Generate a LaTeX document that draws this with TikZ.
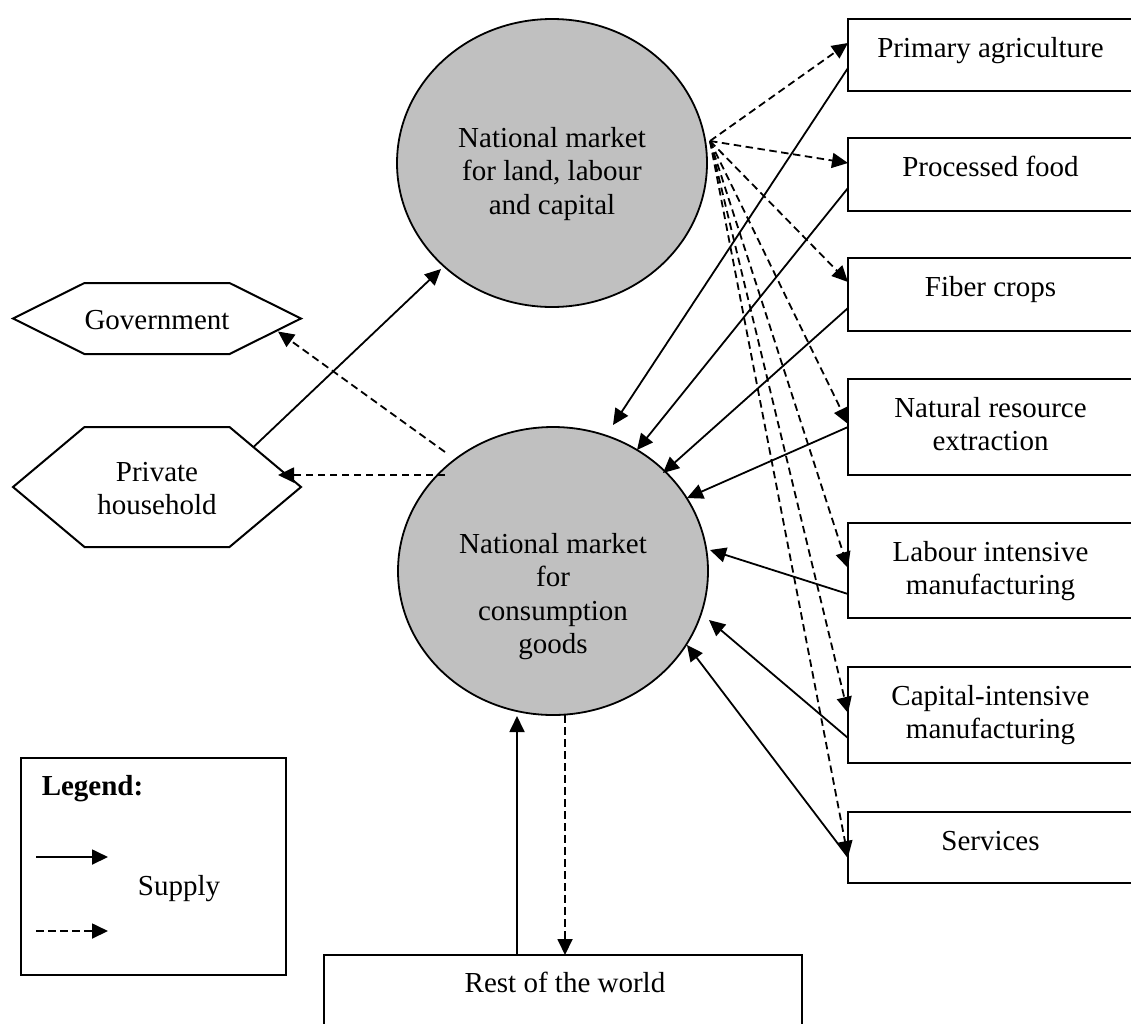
\documentclass[tikz,border=0pt]{standalone}
\usepackage{fontspec}
\setmainfont{Liberation Serif}
\usetikzlibrary{arrows.meta,calc,shapes.geometric}
\definecolor{marketgray}{RGB}{192,192,192}
\begin{document}
\begin{tikzpicture}[x=1pt,y=-1pt,
  every node/.style={inner sep=0pt,outer sep=0pt},
  % text block: placed by the baseline of its first line
  txt/.style={font=\fontsize{29}{33.5}\selectfont,align=center,anchor=north,yshift=23.45pt},
  sector/.style={draw,line width=2.4pt,minimum width=285pt},
  market/.style={ellipse,draw,line width=1.8pt,fill=marketgray,minimum width=310pt,minimum height=288pt},
  agent/.style={minimum width=288pt},
  hexline/.style={line width=2pt,line join=miter},
  supply/.style={draw,line width=1.8pt,-{Triangle[length=16pt,width=15pt]}},
  demand/.style={supply,dash pattern=on 7.5pt off 4.5pt}]

\useasboundingbox (0,0) rectangle (1131,1023);
\fill[white] (0,0) rectangle (1131,1023);
\clip (0,0) rectangle (1131,1023);

% markets
\node[market] (lm) at (552,163) {};
\node[txt] (lmt) at (552,147) {\strut National market\\for land, labour\\and capital};
\node[market] (cg) at (553,571) {};
\node[txt] (cgt) at (553,553) {\strut National market\\for\\consumption\\goods};

% sectors
\node[sector,minimum height=72pt] (pa) at (990.5,55) {};
\node[txt] (pat) at ($(pa.north)+(0,38)$) {\strut Primary agriculture};
\node[sector,minimum height=73pt] (pf) at (990.5,174.5) {};
\node[txt] (pft) at ($(pf.north)+(0,38)$) {\strut Processed food};
\node[sector,minimum height=73pt] (fc) at (990.5,294.5) {};
\node[txt] (fct) at ($(fc.north)+(0,38)$) {\strut Fiber crops};
\node[sector,minimum height=96pt] (nr) at (990.5,427) {};
\node[txt] (nrt) at ($(nr.north)+(0,38)$) {\strut Natural resource\\extraction};
\node[sector,minimum height=95pt] (li) at (990.5,570.5) {};
\node[txt] (lit) at ($(li.north)+(0,38)$) {\strut Labour intensive\\manufacturing};
\node[sector,minimum height=96pt] (ci) at (990.5,715) {};
\node[txt] (cit) at ($(ci.north)+(0,38)$) {\strut Capital-intensive\\manufacturing};
\node[sector,minimum height=71pt] (sv) at (990.5,847.5) {};
\node[txt] (svt) at ($(sv.north)+(0,38)$) {\strut Services};

% rest of the world
\node[sector,minimum width=478pt,minimum height=72pt] (rw) at (563,991) {};
\node[txt] (rwt) at (565,992) {\strut Rest of the world};

% government and households
\node[agent,minimum height=71pt] (gov) at (157,318.5) {};
\draw[hexline] (gov.west) -- ($(gov.north west)+(71.5,0)$) -- ($(gov.north east)+(-71.5,0)$)
  -- (gov.east) -- ($(gov.south east)+(-71.5,0)$) -- ($(gov.south west)+(71.5,0)$) -- cycle;
\node[txt] (govt) at (157,329) {\strut Government};
\node[agent,minimum height=120pt] (hh) at (157,487) {};
\draw[hexline] (hh.west) -- ($(hh.north west)+(71.5,0)$) -- ($(hh.north east)+(-71.5,0)$)
  -- (hh.east) -- ($(hh.south east)+(-71.5,0)$) -- ($(hh.south west)+(71.5,0)$) -- cycle;
\node[txt] (hht) at (157,481) {\strut Private\\household};

% demand for factors
\coordinate (lmo) at ($(lm.center)+(158,-22)$);
\draw[demand] (lmo) -- ($(pa.west)+(0,-12)$);
\draw[demand] (lmo) -- ($(pf.west)+(0,-11.5)$);
\draw[demand] (lmo) -- ($(fc.west)+(0,-12.5)$);
\draw[demand] (lmo) -- ($(nr.west)+(0,-3)$);
\draw[demand] (lmo) -- ($(li.west)+(0,-2.5)$);
\draw[demand] (lmo) -- ($(ci.west)+(0,-2)$);
\draw[demand] (lmo) -- ($(sv.west)+(0,9.5)$);

% supply of goods
\draw[supply] ($(pa.west)+(0,13)$) -- ($(cg.center)+(60,-146)$);
\draw[supply] ($(pf.west)+(0,13.5)$) -- ($(cg.center)+(84,-121)$);
\draw[supply] ($(fc.west)+(0,13.5)$) -- ($(cg.center)+(110,-98)$);
\draw[supply] (nr.west) -- ($(cg.center)+(134,-73)$);
\draw[supply] ($(li.west)+(0,23.5)$) -- ($(cg.center)+(157,-21)$);
\draw[supply] ($(ci.west)+(0,23)$) -- ($(cg.center)+(156,49)$);
\draw[supply] ($(sv.west)+(0,9.5)$) -- ($(cg.center)+(134,74)$);

% households, government and trade
\draw[supply] ($(hh.north east)+(-48,20.5)$) -- ($(lm.center)+(-111,106)$);
\draw[demand] ($(cg.center)+(-108,-119)$) -- ($(gov.east)+(-23,13)$);
\draw[demand] ($(cg.center)+(-108,-96)$) -- ($(hh.east)+(-23,-12)$);
\draw[supply] ($(rw.north)+(-46,0)$) -- ($(cg.south)+(-36,1)$);
\draw[demand] ($(cg.south)+(12,0)$) -- ($(rw.north)+(2,0)$);

% legend
\node[draw,line width=2.2pt,minimum width=265pt,minimum height=217pt] (lg) at (153.5,866.5) {};
\node[txt,font=\fontsize{29}{33.5}\selectfont\bfseries] (lgt) at (92.5,795) {\strut Legend:};
\coordinate (ls1) at (36,857);
\coordinate (ls2) at (108,857);
\coordinate (ld1) at (36,931);
\coordinate (ld2) at (108,931);
\draw[supply] (ls1) -- (ls2);
\draw[demand] (ld1) -- (ld2);
\node[txt] (lgs) at (179,895) {\strut Supply};
\end{tikzpicture}
\end{document}
